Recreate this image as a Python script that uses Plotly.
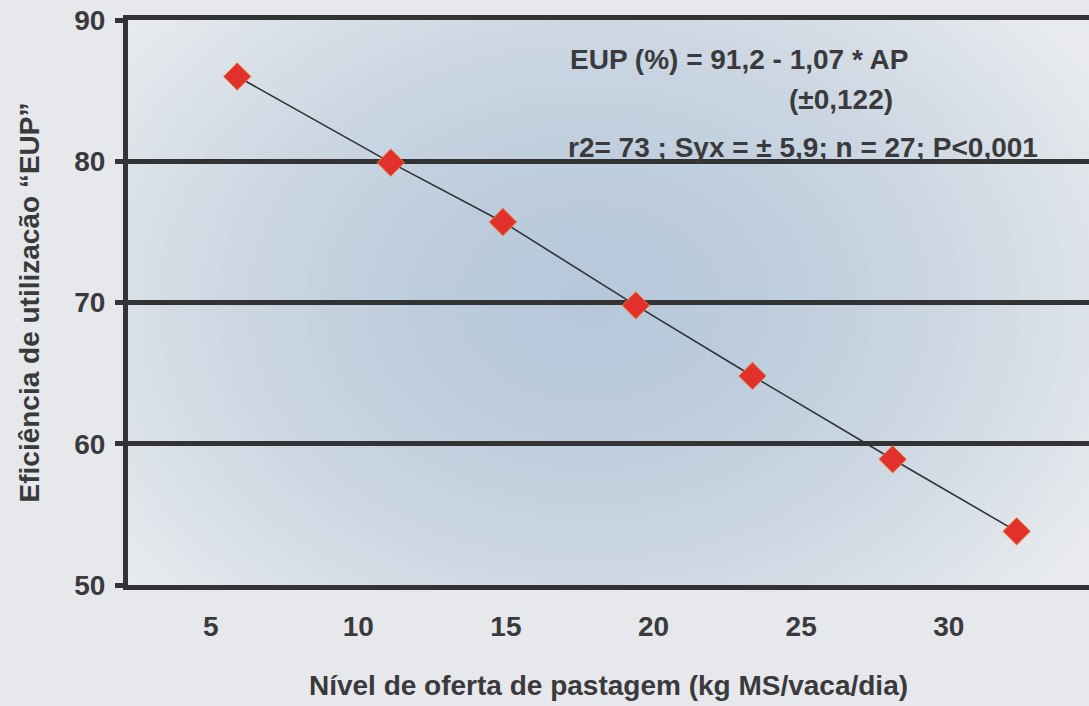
import plotly.graph_objects as go

# Data
oferta = [5.9, 11.1, 14.9, 19.4, 23.35, 28.1, 32.3]
eup = [86.0, 79.9, 75.7, 69.8, 64.8, 58.9, 53.8]
x_ticks = [5, 10, 15, 20, 25, 30]
y_ticks = [50, 60, 70, 80, 90]

eq_line1 = "EUP (%) = 91,2 - 1,07 * AP"
eq_line2 = "(±0,122)"
eq_line3 = "r2= 73 ; Syx = ± 5,9; n = 27; P<0,001"

TXT = "#3a3a3c"
GRID = "#333335"
FONT = "Liberation Sans, Arial, sans-serif"
TICK_SIZE = 28
TEXT_SIZE = 28

X_RANGE = [2.2, 34.75]
Y_RANGE = [50, 90]

L, T, B, W, H = 128, 20, 121, 1089, 706
PW, PH = W - L, H - T - B

fig = go.Figure()
fig.add_trace(go.Scatter(
    x=oferta, y=eup, mode="lines+markers",
    line=dict(color="#2f3335", width=1.6),
    marker=dict(symbol="diamond", size=21, color="#e2302a",
                line=dict(color="#e8793a", width=1)),
    showlegend=False,
))

# soft radial background glow: concentric opaque ellipses, edge -> centre colour
EDGE = (233, 235, 238)
CENTRE = (182, 200, 218)
n = 40
cx = X_RANGE[0] + 0.48 * (X_RANGE[1] - X_RANGE[0])
cy = Y_RANGE[0] + 0.50 * (Y_RANGE[1] - Y_RANGE[0])
for i in range(n):
    f = (n - i) / n            # radius fraction, 1 -> outermost
    w = 1 - f ** 1.6           # blend weight toward centre colour
    col = tuple(round(e + (c - e) * w) for e, c in zip(EDGE, CENTRE))
    rx = 0.62 * f * (X_RANGE[1] - X_RANGE[0])
    ry = 0.80 * f * (Y_RANGE[1] - Y_RANGE[0])
    fig.add_shape(type="circle", xref="x", yref="y",
                  x0=cx - rx, x1=cx + rx, y0=cy - ry, y1=cy + ry,
                  fillcolor="rgb(%d,%d,%d)" % col, line=dict(width=0),
                  layer="below")

fig.update_layout(
    width=W, height=H,
    margin=dict(l=L, r=0, t=T, b=B),
    paper_bgcolor="#e7e8eb",
    plot_bgcolor="rgb(%d,%d,%d)" % EDGE,
    font=dict(family=FONT, color=TXT, size=TEXT_SIZE, weight="bold"),
    xaxis=dict(
        range=X_RANGE, tickvals=x_ticks, showgrid=False, zeroline=False,
        showline=True, linecolor=GRID, linewidth=5, mirror=True,
        ticks="", ticklabelstandoff=12,
        tickfont=dict(size=TICK_SIZE, color=TXT, weight="bold"),
        title=dict(text="Nível de oferta de pastagem (kg MS/vaca/dia)",
                   font=dict(size=TEXT_SIZE, color=TXT, weight="bold"), standoff=36),
    ),
    yaxis=dict(
        range=Y_RANGE, tickvals=y_ticks, showgrid=True, gridcolor=GRID,
        gridwidth=5, zeroline=False, showline=True, linecolor=GRID,
        linewidth=5, mirror=False, ticks="outside", ticklen=8, tickwidth=5,
        tickcolor=GRID, ticklabelstandoff=4,
        tickfont=dict(size=TICK_SIZE, color=TXT, weight="bold"),
        title=dict(text="Eficiência de utilizacão “EUP”",
                   font=dict(size=TEXT_SIZE, color=TXT, weight="bold"), standoff=28),
    ),
)

for txt, px, py in [(eq_line1, 568, 59), (eq_line2, 787, 99), (eq_line3, 566, 147)]:
    fig.add_annotation(xref="x domain", yref="y domain",
                       x=(px - L) / PW, y=(T + PH - py) / PH,
                       text=txt, showarrow=False, xanchor="left", yanchor="middle",
                       font=dict(size=TEXT_SIZE, color=TXT, weight="bold"))

fig.write_html("out.html")
